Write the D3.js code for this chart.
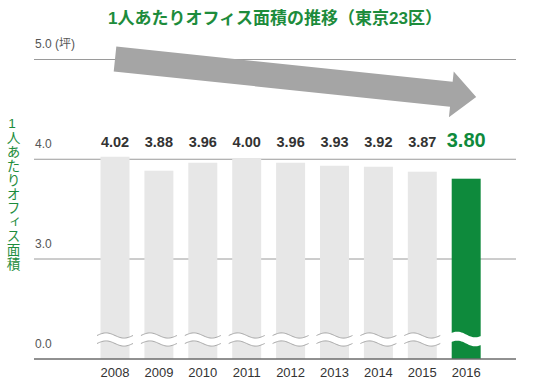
<!DOCTYPE html>
<html><head><meta charset="utf-8">
<script src="https://cdn.jsdelivr.net/npm/d3@7"></script>
<style>html,body{margin:0;padding:0;background:#fff;}svg{display:block;}</style>
</head><body>
<svg id="c" width="550" height="380"></svg>
<script>
const years = ["2008","2009","2010","2011","2012","2013","2014","2015","2016"];
const values = [4.02, 3.88, 3.96, 4.00, 3.96, 3.93, 3.92, 3.87, 3.80];
const valueLabels = ["4.02","3.88","3.96","4.00","3.96","3.93","3.92","3.87","3.80"];
const tickValues = [0, 3, 4, 5];
const tickLabels = ["0.0", "3.0", "4.0", "5.0 (坪)"];
const title = "1人あたりオフィス面積の推移（東京23区）";
const yTitle = "1人あたりオフィス面積";

const GREEN = "#0e8a3c", GREY = "#e7e7e7";
const FONT = "'Liberation Sans', Arial, 'Noto Sans CJK JP', sans-serif";
const svg = d3.select("#c");

// broken axis: 0-3 compressed
const y = d3.scaleLinear().domain([0, 3, 5]).range([358.5, 258.5, 59]);
const x = d3.scaleBand().domain(years).range([85.6, 495.6]).paddingInner(0.34).paddingOuter(0.34);
const gx0 = 34, gx1 = 516;

// title
svg.append("text").attr("x", 275).attr("y", 24).attr("text-anchor", "middle")
  .attr("font-family", FONT).attr("font-weight", "bold").attr("font-size", 17)
  .attr("fill", "#1d8c3c").text(title);

// vertical y title
svg.append("text").attr("x", 12).attr("y", 116)
  .attr("font-family", FONT).attr("font-size", 13.6).attr("fill", "#1d8c3c")
  .style("writing-mode", "vertical-rl").style("text-orientation", "upright")
  .attr("letter-spacing", 0.4)
  .text(yTitle);

// gridlines
svg.append("g").selectAll("line").data(tickValues.filter(v => v > 0)).join("line")
  .attr("x1", gx0).attr("x2", gx1).attr("y1", d => y(d) + 0.5).attr("y2", d => y(d) + 0.5)
  .attr("stroke", "#9a9a9a").attr("stroke-width", 1);

// tick labels
svg.append("g").selectAll("text").data(tickValues).join("text")
  .attr("x", 35).attr("y", d => y(d) - 11)
  .attr("font-family", FONT).attr("font-size", 12).attr("fill", "#555")
  .text((d, i) => tickLabels[i]);

// bars
const last = years.length - 1;
svg.append("g").selectAll("rect").data(values).join("rect")
  .attr("x", (d, i) => x(years[i])).attr("width", x.bandwidth())
  .attr("y", d => y(d)).attr("height", d => y(0) - y(d))
  .attr("fill", (d, i) => i === last ? GREEN : GREY);

// wave breaks
function wavePts(x0, x1, c, A) {
  const pts = [];
  for (let k = 0; k <= 30; k++) {
    const t = k / 30;
    pts.push([x0 + (x1 - x0) * t, c - A * Math.sin(2 * Math.PI * t)]);
  }
  return pts;
}
const line = d3.line();
const wg = svg.append("g");
years.forEach((yr, i) => {
  const x0 = x(yr) - 3.5, x1 = x(yr) + x.bandwidth() + 3.5;
  const top = wavePts(x0, x1, 335.5, 2.6), bot = wavePts(x0, x1, 343.5, 2.6);
  const band = top.concat(bot.slice().reverse());
  if (i === last) {
    wg.append("path").attr("d", line(wavePts(x0, x1, 334.5, 2.8).concat(wavePts(x0, x1, 343.5, 2.8).reverse())) + "Z")
      .attr("fill", "#fff");
  } else {
    wg.append("path").attr("d", line(band) + "Z").attr("fill", "#fff");
    wg.append("path").attr("d", line(top)).attr("fill", "none").attr("stroke", "#a8a8a8").attr("stroke-width", 1);
    wg.append("path").attr("d", line(bot)).attr("fill", "none").attr("stroke", "#a8a8a8").attr("stroke-width", 1);
  }
});

// baseline
svg.append("line").attr("x1", gx0).attr("x2", gx1).attr("y1", y(0) + 0.5).attr("y2", y(0) + 0.5)
  .attr("stroke", "#222").attr("stroke-width", 1);

// value labels
svg.append("g").selectAll("text").data(values).join("text")
  .attr("x", (d, i) => x(years[i]) + x.bandwidth() / 2).attr("y", 147)
  .attr("text-anchor", "middle").attr("font-family", FONT).attr("font-weight", "bold")
  .attr("font-size", (d, i) => i === last ? 20 : 14.5)
  .attr("fill", (d, i) => i === last ? GREEN : "#333")
  .text((d, i) => valueLabels[i]);

// year labels
svg.append("g").selectAll("text").data(years).join("text")
  .attr("x", d => x(d) + x.bandwidth() / 2).attr("y", 377)
  .attr("text-anchor", "middle").attr("font-family", FONT).attr("font-size", 13)
  .attr("fill", "#333").text(d => d);

// trend arrow (decoration)
const S = [x(years[0]) + x.bandwidth() / 2, y(5.0)];
const T = [x(years[last]) + x.bandwidth() / 2 + 10, y(4.62)];
const dx = T[0] - S[0], dy = T[1] - S[1], L = Math.hypot(dx, dy);
const u = [dx / L, dy / L], n = [-u[1], u[0]];
const headLen = 25, sh = 12.5, hh = 23;
const B = [T[0] - headLen * u[0], T[1] - headLen * u[1]];
const P = (p, k) => [p[0] + k * n[0], p[1] + k * n[1]];
const arrow = [P(S, -sh), P(B, -sh), P(B, -hh), T, P(B, hh), P(B, sh), P(S, sh)];
svg.append("path").attr("d", line(arrow) + "Z").attr("fill", "#a5a5a5");
</script>
</body></html>
